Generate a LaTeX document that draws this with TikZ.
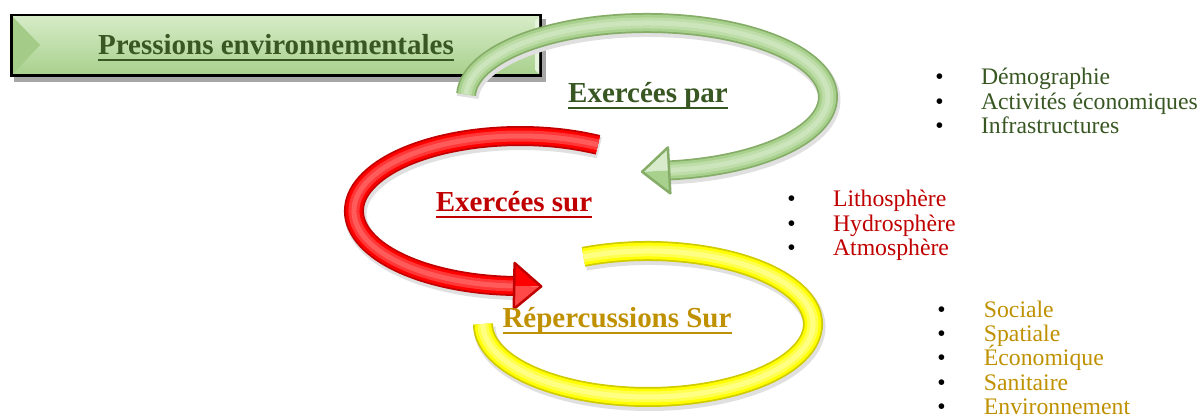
\documentclass[tikz,border=0pt]{standalone}
\usepackage{fontspec}
\setmainfont{Liberation Serif}
\usepackage{tikz}

\definecolor{titlegreen}{HTML}{385723}
\definecolor{sphred}{HTML}{C00000}
\definecolor{impgold}{HTML}{BF9000}
\definecolor{greenedge}{HTML}{86AD68}
\definecolor{greenbody}{HTML}{A9D18E}
\definecolor{greenlight}{HTML}{D8ECCB}
\definecolor{rededge}{HTML}{C00000}
\definecolor{redbody}{HTML}{FF0000}
\definecolor{redlight}{HTML}{FF7A7A}
\definecolor{yellowedge}{HTML}{D0CA00}
\definecolor{yellowbody}{HTML}{FFFF00}
\definecolor{yellowlight}{HTML}{FFFFB0}
\definecolor{boxtop}{HTML}{D5EBC6}
\definecolor{boxbot}{HTML}{A9D18E}
\definecolor{boxdark}{HTML}{A4CB88}

\newcommand{\undl}[1]{\setbox0\hbox{#1}\rlap{\rule[-3.2pt]{\wd0}{1.1pt}}\box0}

\begin{document}
\begin{tikzpicture}[x=0.02cm, y=-0.02cm,
  heading/.style={inner sep=0pt, anchor=base, font=\fontsize{16.5}{18}\selectfont\bfseries},
  bullets/.style={inner sep=0pt, anchor=base west, font=\fontsize{13.5}{13.9}\selectfont},
  tube/.style n args={3}{line width=4mm, draw=#1,
    preaction={draw=black!12, line width=4.4mm, transform canvas={shift={(1.5,3)}}},
    postaction={draw=#2, line width=3.3mm},
    postaction={draw=#3!45!#2, line width=2.2mm},
    postaction={draw=#3!75!#2, line width=1mm}},
  headfill/.style n args={2}{fill=#2, draw=#1, line width=0.5mm, line join=round}]
\useasboundingbox (0,0) rectangle (1203,418);

\fill[black!35] (14,19) rectangle (546,82);
\fill[black] (10,14) rectangle (542,77);
\shade[top color=boxtop, bottom color=boxbot] (13,17) rectangle (539,74);
\fill[boxdark] (13,17) -- (40,45) -- (13,74) -- cycle;
\fill[boxtop!60!white] (539,17) -- (539,74) -- (535,70) -- (535,21) -- cycle;
\node[heading, text=titlegreen] (title) at (276,55) {\undl{Pressions environnementales}};

\draw[tube={greenedge}{greenbody}{greenlight}] (466.1,94.4) arc[start angle=-178, end angle=83, x radius=181, y radius=74];
\fill[greenlight] (667.9,147.4) -- (642.1,171.8) -- (669.1,170.4) -- cycle;
\fill[greenbody] (669.1,170.4) -- (642.1,171.8) -- (670.3,193.4) -- cycle;
\draw[headfill={greenedge}{none}, fill=none] (667.9,147.4) -- (642.1,171.8) -- (670.3,193.4) -- cycle;

\draw[tube={rededge}{redbody}{redlight}] (597.9,144.8) arc[start angle=-62, end angle=-268, x radius=166, y radius=75];
\fill[redbody] (514.6,263) -- (541.2,286.4) -- (514.2,286) -- cycle;
\fill[redlight!60!redbody] (514.2,286) -- (541.2,286.4) -- (513.8,309) -- cycle;
\draw[headfill={rededge}{none}, fill=none] (514.6,263) -- (541.2,286.4) -- (513.8,309) -- cycle;

\draw[tube={yellowedge}{yellowbody}{yellowlight}] (583.5,256.8) arc[start angle=-113, end angle=180, x radius=165, y radius=73];

\node[heading, text=titlegreen] (par) at (648,103) {\undl{Exercées par}};
\node[heading, text=sphred] (sur) at (514,212) {\undl{Exercées sur}};
\node[heading, text=impgold] (rep) at (617,328) {\undl{Répercussions Sur}};

\node[bullets, text=titlegreen] (drivers) at (935,85) {\begin{tabular}[t]{@{}p{26pt}@{}l@{}}
\textcolor{black}{•} & Démographie\\
\textcolor{black}{•} & Activités économiques\\
\textcolor{black}{•} & Infrastructures
\end{tabular}};
\node[bullets, text=sphred] (spheres) at (787,207) {\begin{tabular}[t]{@{}p{26pt}@{}l@{}}
\textcolor{black}{•} & Lithosphère\\
\textcolor{black}{•} & Hydrosphère\\
\textcolor{black}{•} & Atmosphère
\end{tabular}};
\node[bullets, text=impgold] (impacts) at (937,317) {\begin{tabular}[t]{@{}p{26.5pt}@{}l@{}}
\textcolor{black}{•} & Sociale\\
\textcolor{black}{•} & Spatiale\\
\textcolor{black}{•} & \smash{Économique}\\
\textcolor{black}{•} & Sanitaire\\
\textcolor{black}{•} & Environnement
\end{tabular}};
\end{tikzpicture}
\end{document}
